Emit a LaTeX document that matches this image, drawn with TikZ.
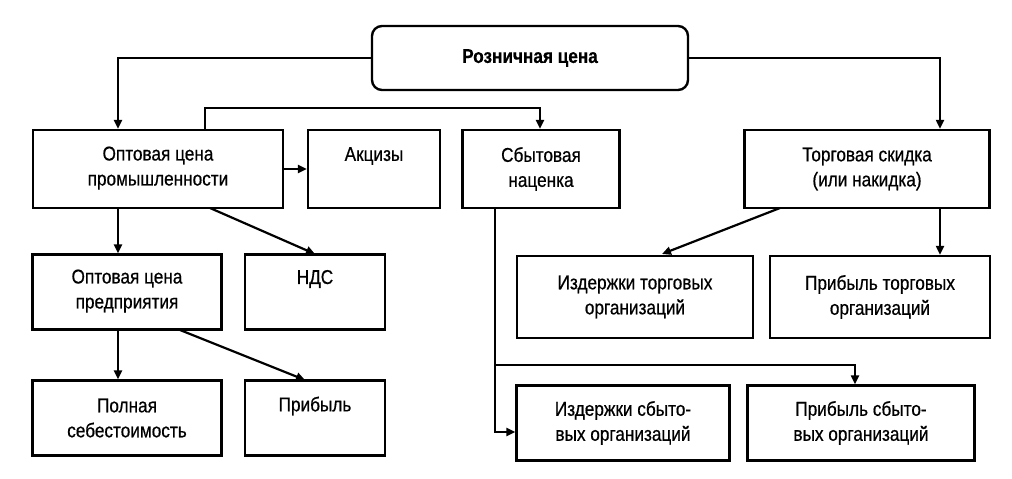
\documentclass[tikz,border=0pt]{standalone}
\usepackage{fontspec}
\setmainfont{Liberation Sans}[FakeStretch=0.86,FakeBold=0.6]
\usetikzlibrary{arrows.meta}
\begin{document}
\begin{tikzpicture}[x=1pt,y=-1pt,
 bx/.style={draw,line width=2.4pt,align=center,font=\fontsize{20}{25}\selectfont},
 ar/.style={line width=2.2pt,-{Triangle[length=9pt,width=8pt]}}]
\useasboundingbox (0,0) rectangle (1012,479);
\node[bx,rounded corners=10pt,minimum width=316,minimum height=64,font=\bfseries\fontsize{20}{24}\selectfont] (r) at (530,58) {Розничная цена};
\node[bx,minimum width=250,minimum height=78,text depth=6pt] (op) at (158,169) {Оптовая цена\\промышленности};
\node[bx,minimum width=132,minimum height=78,text depth=30pt] (ak) at (374,169) {Акцизы};
\node[bx,minimum width=157,minimum height=78] (sb) at (541,169) {Сбытовая\\наценка};
\node[bx,minimum width=245,minimum height=78] (tr) at (867,169) {Торговая скидка\\(или накидка)};
\node[bx,minimum width=189,minimum height=75,text depth=6pt] (opp) at (127,292) {Оптовая цена\\предприятия};
\node[bx,minimum width=140,minimum height=75,text depth=30pt] (nds) at (315,292) {НДС};
\node[bx,minimum width=236,minimum height=82] (it) at (635,297) {Издержки торговых\\организаций};
\node[bx,minimum width=220,minimum height=82] (pt) at (880,297) {Прибыль торговых\\организаций};
\node[bx,minimum width=189,minimum height=75] (ps) at (127,418) {Полная\\себестоимость};
\node[bx,minimum width=140,minimum height=75,text depth=28pt] (pr) at (315,418) {Прибыль};
\node[bx,minimum width=213,minimum height=75] (is) at (623,423) {Издержки сбыто-\\вых организаций};
\node[bx,minimum width=227,minimum height=75] (ps2) at (861,423) {Прибыль сбыто-\\вых организаций};
\draw[ar] (r.west) -| (op.north -| 118,0);
\draw[ar] (r.east) -| (tr.north -| 940,0);
\draw[ar] (op.north -| 205,0) -- (205,108) -| (sb.north -| 540,0);
\draw[ar] (op.east) -- (ak.west);
\draw[ar] (op.south -| 118,0) -- (opp.north -| 118,0);
\draw[ar] (210,208) -- (315,254);
\draw[ar] (780,208) -- (662,254);
\draw[ar] (tr.south -| 940,0) -- (pt.north -| 940,0);
\draw[ar] (opp.south -| 118,0) -- (ps.north -| 118,0);
\draw[ar] (180,330) -- (305,380);
\coordinate (j) at (495,365);
\draw[ar] (sb.south -| 495,0) -- (495,432) -- (is.west |- 0,432);
\draw[ar] (j) -| (ps2.north -| 855,0);
\end{tikzpicture}
\end{document}
